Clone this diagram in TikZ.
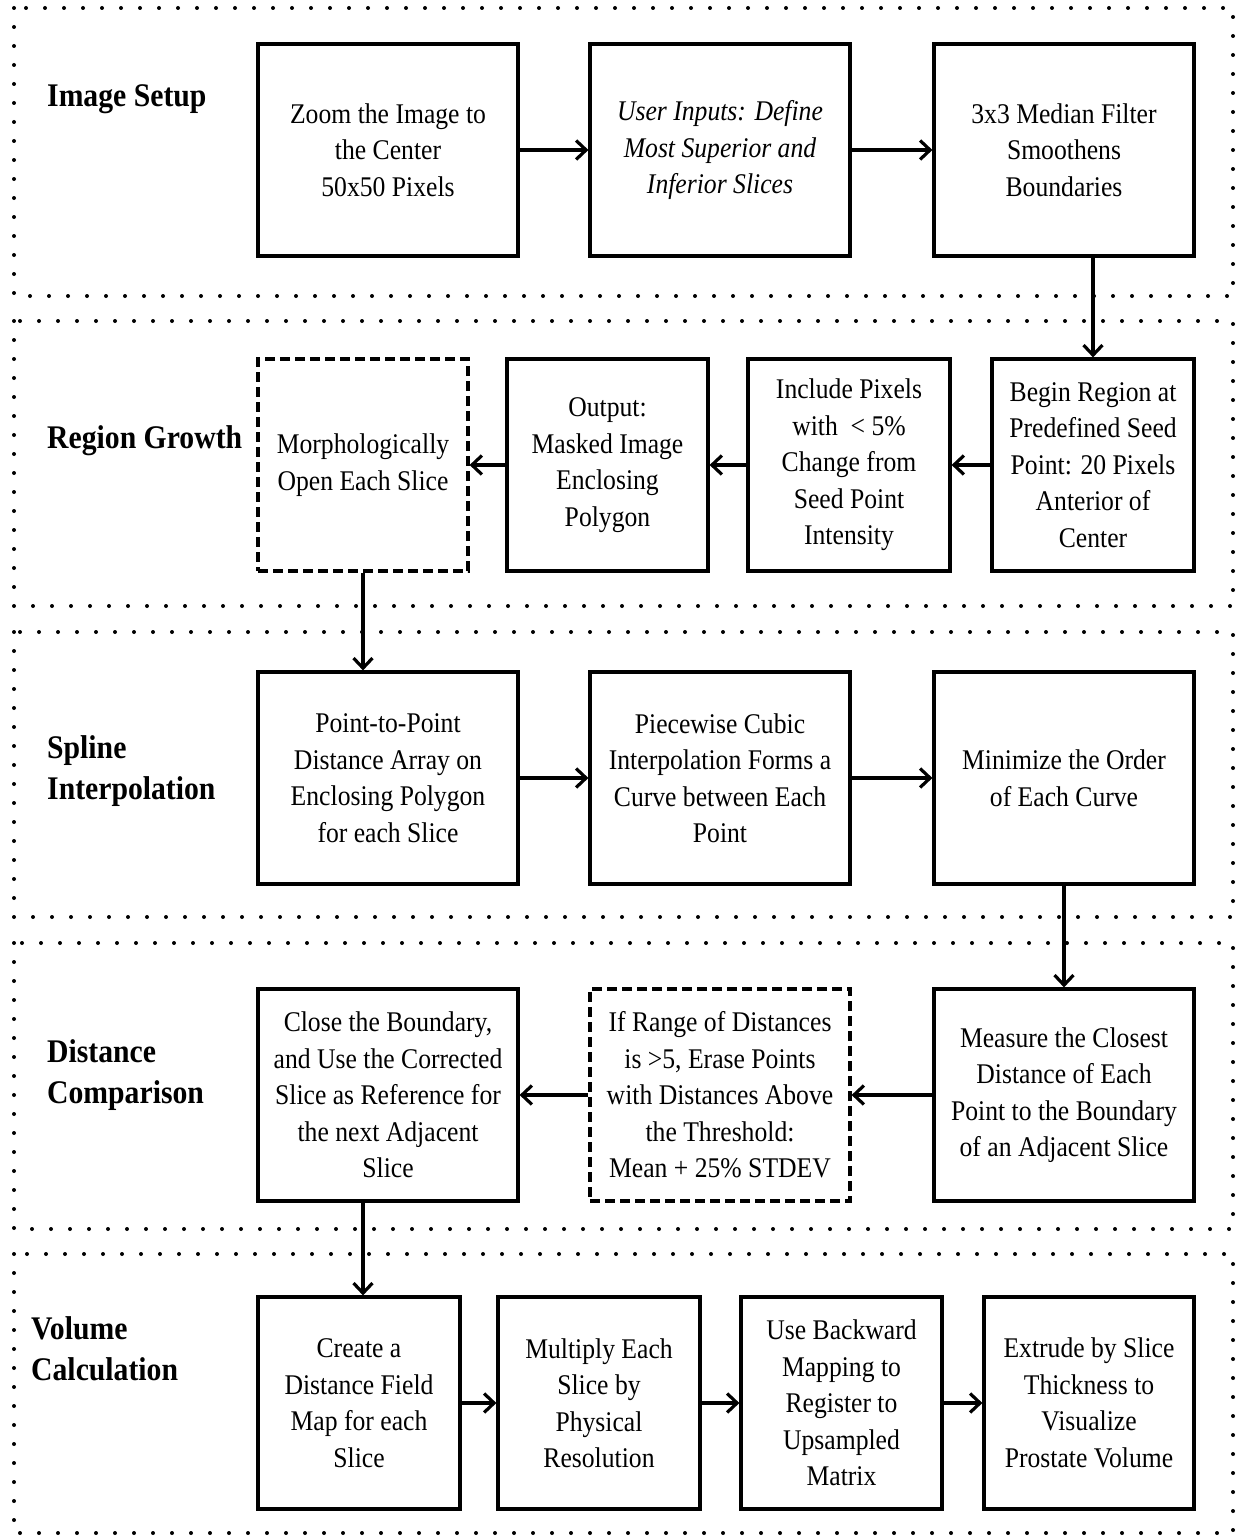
\documentclass[tikz,border=0pt]{standalone}
\usepackage{fontspec}
\setmainfont{Liberation Serif}[FakeStretch=0.9]
\usetikzlibrary{arrows.meta}
\begin{document}
\begin{tikzpicture}[x=1pt,y=-1pt,
  box/.style={draw, line width=3.2pt, minimum height=212pt, inner sep=0pt, align=center,
    font=\fontsize{28.5}{36.5}\selectfont},
  dbox/.style={box, dash pattern=on 10pt off 5pt},
  panel/.style={line width=4pt, line cap=round, dash pattern=on 0pt off 19pt},
  lab/.style={anchor=base west, align=left, inner sep=0pt, font=\fontsize{33}{41}\selectfont\bfseries},
  arr/.style={line width=3.2pt, -{Straight Barb[length=10pt,width=19pt,line width=3.2pt]}}]
\useasboundingbox (0,0) rectangle (1235,1536);
% panels
\draw[panel] (14,8) rectangle (1233,296);
\draw[panel] (14,321) rectangle (1233,606);
\draw[panel] (14,632) rectangle (1233,917);
\draw[panel] (14,943) rectangle (1233,1229);
\draw[panel] (14,1254) rectangle (1233,1533);
% labels
\node[lab] (l1) at (47,107) {Image Setup};
\node[lab] (l2) at (47,448) {Region Growth};
\node[lab] (l3) at (47,799) {Spline\\Interpolation};
\node[lab] (l4) at (47,1103) {Distance\\Comparison};
\node[lab] (l5) at (31,1380) {Volume\\Calculation};
% row 1
\node[box, minimum width=260pt] (A) at (388,150) {Zoom the Image to\\the Center\\50x50 Pixels};
\node[box, minimum width=260pt] (B) at (720,150) {\itshape User Inputs: Define\\\itshape Most Superior and\\\itshape Inferior Slices};
\node[box, minimum width=260pt] (C) at (1064,150) {3x3 Median Filter\\Smoothens\\Boundaries};
% row 2
\node[box, dash pattern=on 10pt off 5pt, minimum width=210pt] (D) at (363,465) {Morphologically\\Open Each Slice};
\node[box, minimum width=201pt] (E) at (607.5,465) {Output:\\Masked Image\\Enclosing\\Polygon};
\node[box, minimum width=202pt] (F) at (849,465) {Include Pixels\\with\ \ < 5\%\\Change from\\Seed Point\\Intensity};
\node[box, minimum width=202pt] (G) at (1093,465) {Begin Region at\\Predefined Seed\\Point: 20 Pixels\\Anterior of\\Center};
% row 3
\node[box, minimum width=260pt] (H) at (388,778) {Point-to-Point\\Distance Array on\\Enclosing Polygon\\for each Slice};
\node[box, minimum width=260pt] (I) at (720,778) {Piecewise Cubic\\Interpolation Forms a\\Curve between Each\\Point};
\node[box, minimum width=260pt] (J) at (1064,778) {Minimize the Order\\of Each Curve};
% row 4
\node[box, minimum width=260pt] (K) at (388,1095) {Close the Boundary,\\and Use the Corrected\\Slice as Reference for\\the next Adjacent\\Slice};
\node[box, dash pattern=on 10pt off 5pt, minimum width=260pt] (L) at (720,1095) {If Range of Distances\\is >5, Erase Points\\with Distances Above\\the Threshold:\\Mean + 25\% STDEV};
\node[box, minimum width=260pt] (M) at (1064,1095) {Measure the Closest\\Distance of Each\\Point to the Boundary\\of an Adjacent Slice};
% row 5
\node[box, minimum width=202pt] (N) at (359,1403) {Create a\\Distance Field\\Map for each\\Slice};
\node[box, minimum width=202pt] (O) at (599,1403) {Multiply Each\\Slice by\\Physical\\Resolution};
\node[box, minimum width=201pt] (P) at (841.5,1403) {Use Backward\\Mapping to\\Register to\\Upsampled\\Matrix};
\node[box, minimum width=210pt] (Q) at (1089,1403) {Extrude by Slice\\Thickness to\\Visualize\\Prostate Volume};
% connectors
\draw[arr] (A.east) -- (B.west);
\draw[arr] (B.east) -- (C.west);
\draw[arr] (C.south -| G.north) -- (G.north);
\draw[arr] (G.west) -- (F.east);
\draw[arr] (F.west) -- (E.east);
\draw[arr] (E.west) -- (D.east);
\draw[arr] (D.south) -- (D.south |- H.north);
\draw[arr] (H.east) -- (I.west);
\draw[arr] (I.east) -- (J.west);
\draw[arr] (J.south) -- (M.north);
\draw[arr] (M.west) -- (L.east);
\draw[arr] (L.west) -- (K.east);
\draw[arr] (K.south -| D.south) -- (N.north -| D.south);
\draw[arr] (N.east) -- (O.west);
\draw[arr] (O.east) -- (P.west);
\draw[arr] (P.east) -- (Q.west);
\end{tikzpicture}
\end{document}
